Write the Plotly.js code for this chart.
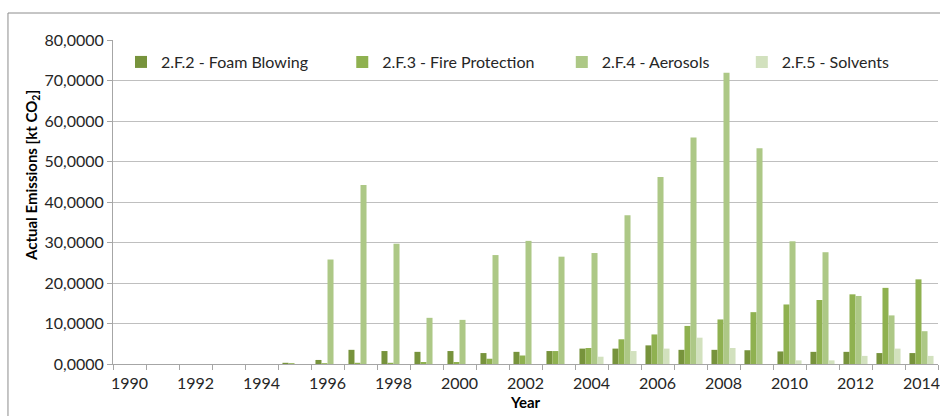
<!DOCTYPE html>
<html>
<head>
<meta charset="utf-8">
<script src="https://cdn.plot.ly/plotly-3.0.1.min.js"></script>
<style>html,body{margin:0;padding:0;background:#fff;}#chart{width:940px;height:416px;}</style>
</head>
<body>
<div id="chart"></div>
<script>
const years = [1990,1991,1992,1993,1994,1995,1996,1997,1998,1999,2000,2001,2002,2003,2004,2005,2006,2007,2008,2009,2010,2011,2012,2013,2014];
const foamBlowing    = [0,0,0,0,0,0.3,1.0,3.5,3.2,3.0,3.2,2.7,3.0,3.2,3.8,3.8,4.6,3.5,3.5,3.4,3.1,3.0,3.0,2.7,2.7];
const fireProtection = [0,0,0,0,0,0.2,0.2,0.3,0.3,0.5,0.5,1.3,2.1,3.2,3.95,6.1,7.3,9.4,11.0,12.8,14.7,15.8,17.2,18.8,20.9];
const aerosols       = [0,0,0,0,0,0,25.8,44.2,29.7,11.4,10.9,26.9,30.4,26.5,27.4,36.7,46.2,55.9,71.9,53.3,30.3,27.6,16.8,12.0,8.1];
const solvents       = [0,0,0,0,0,0,0,0,0,0,0,0,0,0,1.8,3.2,3.8,6.5,3.95,0,0.9,0.9,2.0,3.8,2.0];
const seriesNames = ["2.F.2 - Foam Blowing","2.F.3 - Fire Protection","2.F.4 - Aerosols","2.F.5 - Solvents"];
const seriesColors = ["#77933C","#8FB150","#ADC886","#D2E1BE"];
const yTicks = [0,10,20,30,40,50,60,70,80];

const data = [foamBlowing, fireProtection, aerosols, solvents].map((vals, i) => ({
  type: 'bar', x: years, y: vals, name: seriesNames[i],
  marker: {color: seriesColors[i], line: {width: 0}},
  legend: i === 0 ? 'legend' : 'legend' + (i + 1),
  hoverinfo: 'x+y+name'
}));

const fam = 'Lato, "Liberation Sans", sans-serif';
const font = {family: fam, size: 16, color: '#262626'};
const legendXs = [0.0097, 0.2779, 0.544, 0.7622];
const legends = {};
legendXs.forEach((lx, i) => {
  const key = i === 0 ? 'legend' : 'legend' + (i + 1);
  legends[key] = {x: lx, y: 0.932, xanchor: 'left', yanchor: 'middle', orientation: 'h',
    bgcolor: 'rgba(0,0,0,0)', font: font, itemwidth: 30};
});

const layout = Object.assign({
  width: 940, height: 416,
  margin: {l: 113, r: 2, t: 40, b: 52},
  paper_bgcolor: '#fff', plot_bgcolor: '#fff',
  font: font,
  separators: ',.',
  barmode: 'group', bargap: 0.27, bargroupgap: 0,
  showlegend: true,
  xaxis: {
    type: 'linear', range: [1989.5, 2014.5], tick0: 1990, dtick: 2,
    ticks: '', showgrid: false, zeroline: false,
    showline: true, linecolor: '#A6A6A6', linewidth: 1,
    tickfont: font, ticklabelstandoff: 5, ticklabeloverflow: 'allow',
    minor: {tick0: 1989.5, dtick: 1, ticks: 'outside', ticklen: 5, tickcolor: '#A6A6A6', showgrid: false},
    title: {text: '<b>Year</b>', font: {family: fam, size: 15, color: '#000'}, standoff: 6}
  },
  yaxis: {
    range: [0, 80], tickvals: yTicks, tickformat: '.4f',
    showgrid: true, gridcolor: '#BFBFBF', gridwidth: 1,
    zeroline: false, showline: true, linecolor: '#A6A6A6',
    ticks: 'outside', ticklen: 5, tickcolor: '#A6A6A6',
    tickfont: font
  },
  annotations: [{
    text: '<b>Actual Emissions [kt CO<sub>2</sub>]</b>', textangle: -90,
    xref: 'paper', yref: 'paper', x: (32 - 113) / 825, y: (364 - 176) / 324,
    xanchor: 'center', yanchor: 'middle', showarrow: false,
    font: {family: fam, size: 15, color: '#000'}
  }],
  shapes: [{type: 'rect', xref: 'paper', yref: 'paper', x0: -0.1273, x1: 1.2, y0: -0.5, y1: 1.0833,
    line: {color: '#8C8C8C', width: 1}, fillcolor: 'rgba(0,0,0,0)', layer: 'below'}]
}, legends);

Plotly.newPlot('chart', data, layout, {displayModeBar: false, staticPlot: true});
</script>
</body>
</html>
